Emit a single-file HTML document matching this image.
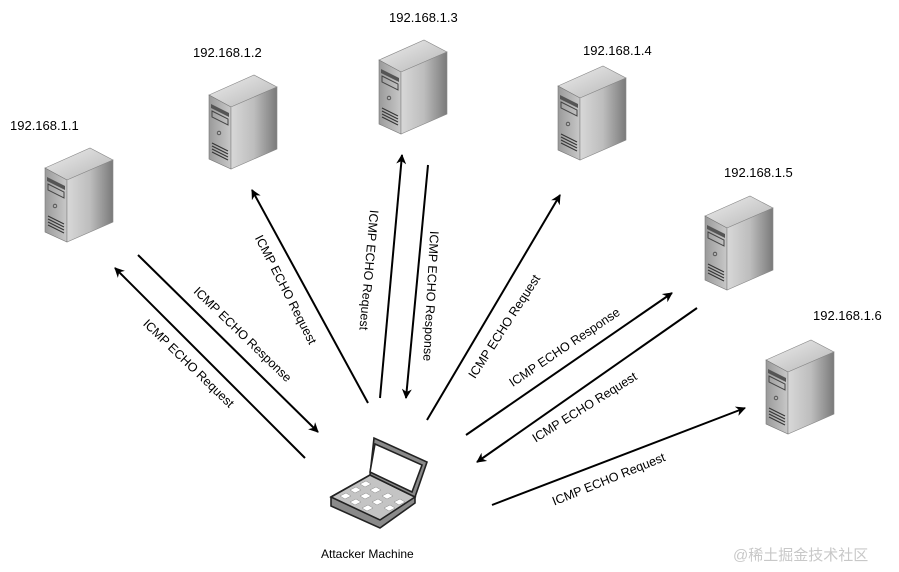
<!DOCTYPE html>
<html><head><meta charset="utf-8"><style>
html,body{margin:0;padding:0;background:#fff;}
svg{display:block;font-family:"Liberation Sans",sans-serif;}
</style></head><body>
<svg width="899" height="572" viewBox="0 0 899 572" xmlns="http://www.w3.org/2000/svg">
<defs>
<linearGradient id="side" x1="0" y1="0" x2="1" y2="0">
<stop offset="0" stop-color="#d8d8d8"/><stop offset="0.5" stop-color="#bdbdbd"/><stop offset="1" stop-color="#7a7a7a"/></linearGradient>
<linearGradient id="front" x1="0" y1="0" x2="1" y2="0">
<stop offset="0" stop-color="#9a9a9a"/><stop offset="1" stop-color="#c8c8c8"/></linearGradient>
<linearGradient id="top" x1="0" y1="0" x2="1" y2="1">
<stop offset="0" stop-color="#eeeeee"/><stop offset="1" stop-color="#b5b5b5"/></linearGradient>
<marker id="ah" markerWidth="10" markerHeight="10" refX="9" refY="5" orient="auto" markerUnits="userSpaceOnUse">
<path d="M0,0 L10,5 L0,10 L3,5 Z" fill="#000"/></marker>
<g id="srv">
<polygon points="0,20 45,0 68,12 22,32" fill="url(#top)" stroke="#888" stroke-width="0.6"/>
<polygon points="0,20 22,32 22,94 0,84" fill="url(#front)" stroke="#777" stroke-width="0.6"/>
<polygon points="22,32 68,12 68,74 22,94" fill="url(#side)" stroke="#888" stroke-width="0.6"/>
<polygon points="2,29 20,38 20,42 2,33" fill="#555"/>
<polygon points="3,36 19,44 19,50 3,42" fill="none" stroke="#444" stroke-width="1"/>
<circle cx="10" cy="58" r="1.8" fill="none" stroke="#444" stroke-width="0.8"/>
<path d="M3,68 L19,76 M3,71 L19,79 M3,74 L19,82 M3,77 L19,85" stroke="#333" stroke-width="1"/>
</g>
</defs>

<use href="#srv" x="45" y="148"/>
<use href="#srv" x="209" y="75"/>
<use href="#srv" x="379" y="40"/>
<use href="#srv" x="558" y="66"/>
<use href="#srv" x="705" y="196"/>
<use href="#srv" x="766" y="340"/>

<g font-size="13" fill="#000">
<text x="10" y="130">192.168.1.1</text>
<text x="193" y="57">192.168.1.2</text>
<text x="389" y="22">192.168.1.3</text>
<text x="583" y="55">192.168.1.4</text>
<text x="724" y="177">192.168.1.5</text>
<text x="813" y="320">192.168.1.6</text>
<text x="321" y="558" font-size="12">Attacker Machine</text>
</g>
<text x="733" y="560" font-size="15" fill="#c8c8c8" font-family="'Liberation Sans','Noto Sans CJK SC',sans-serif">@稀土掘金技术社区</text>

<!-- laptop -->
<g stroke="#222" stroke-width="1.6">
<polygon points="331,497 370,475 415,497 415,503 380,528 331,506" fill="#8a8a8a"/>
<polygon points="331,497 370,475 415,497 380,520" fill="#c4c4c4"/>
<polygon points="370,475 374,438 427,462 415,497" fill="#8a8a8a"/>
<polygon points="375,444 422,465 412,492 370,472" fill="#fff"/>
</g>
<g fill="#fff" stroke="#888" stroke-width="0.5">
<path d="M340,496 l6,-3 l5,3 l-6,3z M350,490 l6,-3 l5,3 l-6,3z M360,484 l6,-3 l5,3 l-6,3z M350,502 l6,-3 l5,3 l-6,3z M360,496 l6,-3 l5,3 l-6,3z M370,490 l6,-3 l5,3 l-6,3z M362,508 l6,-3 l5,3 l-6,3z M372,502 l6,-3 l5,3 l-6,3z M382,496 l6,-3 l5,3 l-6,3z M384,508 l6,-3 l5,3 l-6,3z M394,502 l6,-3 l5,3 l-6,3z"/>
</g>

<g stroke="#000" stroke-width="2" marker-end="url(#ah)">
<line x1="305" y1="458" x2="115" y2="268"/>
<line x1="138" y1="255" x2="318" y2="432"/>
<line x1="368" y1="403" x2="252" y2="190"/>
<line x1="380" y1="398" x2="402" y2="155"/>
<line x1="428" y1="165" x2="406" y2="398"/>
<line x1="427" y1="420" x2="560" y2="195"/>
<line x1="466" y1="435" x2="672" y2="293"/>
<line x1="697" y1="308" x2="477" y2="462"/>
<line x1="492" y1="505" x2="745" y2="408"/>
</g>

<g font-size="12.5" fill="#000" text-anchor="middle" dominant-baseline="middle">
<text transform="translate(188,364) rotate(44)">ICMP ECHO Request</text>
<text transform="translate(242,335) rotate(44)">ICMP ECHO Response</text>
<text transform="translate(285,290) rotate(63)">ICMP ECHO Request</text>
<text transform="translate(368,270) rotate(95)">ICMP ECHO Request</text>
<text transform="translate(430,296) rotate(93)">ICMP ECHO Response</text>
<text transform="translate(505,327) rotate(-57)">ICMP ECHO Request</text>
<text transform="translate(565,348) rotate(-34)">ICMP ECHO Response</text>
<text transform="translate(585,408) rotate(-32)">ICMP ECHO Request</text>
<text transform="translate(609,480) rotate(-22)">ICMP ECHO Request</text>
</g>
</svg>
</body></html>
